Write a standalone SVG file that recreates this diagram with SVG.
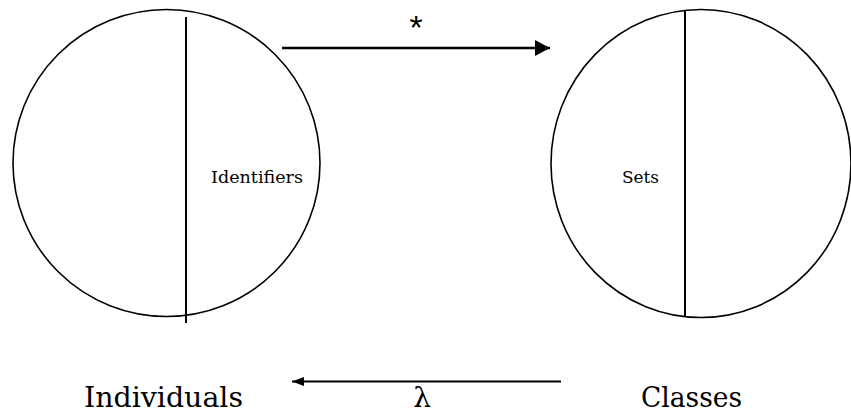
<svg xmlns="http://www.w3.org/2000/svg" width="851" height="413" viewBox="0 0 851 413">
<style>
.c{fill:none;stroke:#000;stroke-width:1.6}
.v{stroke:#000;stroke-width:2}
.t{font-family:"DejaVu Serif","Liberation Serif",serif;fill:#000}
.a{stroke:#000;fill:none}
</style>
<defs>
<marker id="hb" markerUnits="userSpaceOnUse" markerWidth="16" markerHeight="17" refX="15" refY="8" orient="auto"><path d="M0,0 L15,8 L0,16 Z" fill="#000"/></marker>
<marker id="hs" markerUnits="userSpaceOnUse" markerWidth="13" markerHeight="9" refX="12" refY="4.5" orient="auto"><path d="M0,0 L12,4.5 L0,9 Z" fill="#000"/></marker>
</defs>
<rect width="851" height="413" fill="#fff"/>
<g id="individuals">
<ellipse class="c" cx="166.5" cy="163" rx="153.5" ry="153.5"/>
<line class="v" x1="186" y1="17" x2="186" y2="323"/>
<text class="t" x="211" y="183" font-size="17.5" textLength="92" lengthAdjust="spacingAndGlyphs">Identifiers</text>
<text class="t" x="84" y="407" font-size="28" textLength="159" lengthAdjust="spacingAndGlyphs">Individuals</text>
</g>
<g id="classes">
<ellipse class="c" cx="701" cy="163.5" rx="150" ry="154"/>
<line class="v" x1="685" y1="10" x2="685" y2="316"/>
<text class="t" x="622" y="183" font-size="17.5" textLength="37" lengthAdjust="spacingAndGlyphs">Sets</text>
<text class="t" x="641" y="407" font-size="28" textLength="101" lengthAdjust="spacingAndGlyphs">Classes</text>
</g>
<g id="connectors">
<line class="a" x1="282" y1="48" x2="550" y2="48" stroke-width="2.6" marker-end="url(#hb)"/>
<text x="416" y="39" font-family="Liberation Sans, Arial, sans-serif" font-size="34" text-anchor="middle">*</text>
<line class="a" x1="561" y1="381.5" x2="292" y2="381.5" stroke-width="2" marker-end="url(#hs)"/>
<text class="t" x="422" y="407" font-size="28" text-anchor="middle">λ</text>
</g>
</svg>
